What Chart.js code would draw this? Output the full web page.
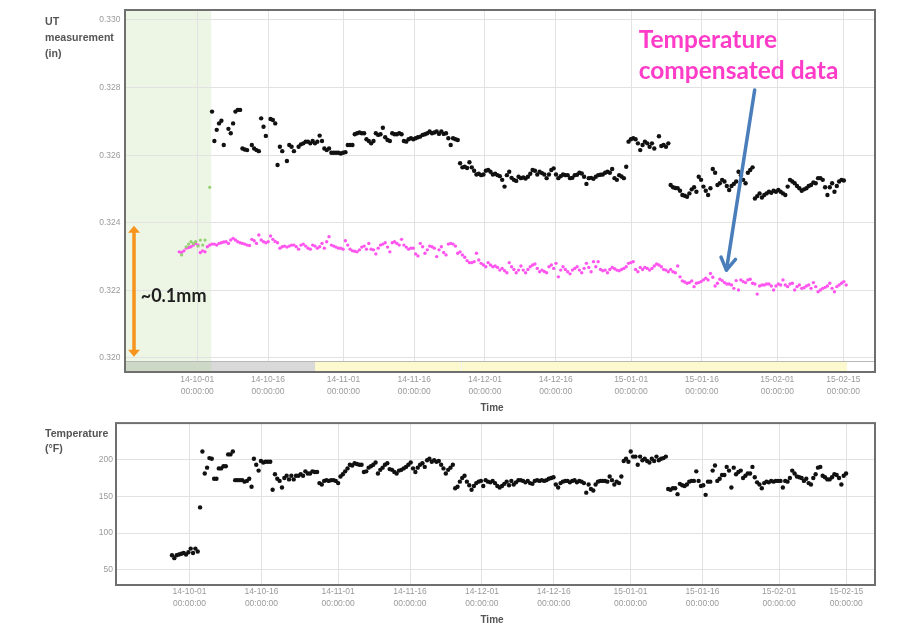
<!DOCTYPE html>
<html><head><meta charset="utf-8">
<script src="https://cdn.jsdelivr.net/npm/chart.js@4.4.1/dist/chart.umd.min.js"></script>
<style>
html,body{margin:0;padding:0;background:#fff;}
#wrap{position:relative;width:915px;height:637px;overflow:hidden;}
canvas{position:absolute;left:0;}
#c1{top:0;} #c2{top:415px;}
</style></head><body>
<div id="wrap"><canvas id="c1" width="915" height="415"></canvas><canvas id="c2" width="915" height="222"></canvas></div>
<script>
// ---------- DATA ----------
const tickDays  = [0, 15, 31, 46, 61, 76, 92, 107, 123, 137];          // days since 14-10-01
const tickDates = ['14-10-01','14-10-16','14-11-01','14-11-16','14-12-01','14-12-16','15-01-01','15-01-16','15-02-01','15-02-15'];
const tickTime  = '00:00:00';
const utTicks   = [0.320, 0.322, 0.324, 0.326, 0.328, 0.330];
const tempTicks = [50, 100, 150, 200];

// sampling schedule of the logged readings (days since 14-10-01)
const utStartDay = -5.31, utStepDays = 0.4962;
const tempStartDay = -3.66, tempStepDays = 0.4883;

// raw UT thickness (in), black
const utRaw = [
null,null,null,null,null,null,null,null,null,null,
null,null,null,null,null,null,null,0.32729,0.32642,0.32675,
0.32694,0.32702,0.3263,null,0.32678,0.32665,0.32694,0.32729,0.32734,0.32734,
0.3262,0.32617,0.32615,null,0.3263,0.3262,0.32615,0.32612,0.32709,0.32684,
0.32657,null,0.32707,0.32704,0.32694,0.32571,0.32625,0.32612,null,0.32583,
0.3263,0.32625,0.32612,null,0.32625,0.32632,0.32635,0.3264,0.3264,0.32635,
0.32642,0.32635,0.3264,0.32658,0.32642,0.3262,0.32615,0.3262,0.32607,0.32607,
0.32607,0.32607,0.32605,0.32607,0.32609,0.3263,0.3263,0.3263,0.32662,0.32665,
0.32667,0.32665,0.32665,0.32647,0.32642,0.32635,0.32642,0.32665,0.3266,0.32662,
0.32681,0.32653,0.32645,0.32642,0.32665,0.32662,0.32662,0.32665,0.32662,0.32642,
0.3264,0.32647,0.3265,0.32647,0.3265,0.32653,0.32655,0.3266,0.32662,0.32665,
0.3267,0.32665,0.32667,0.3267,0.32663,0.3267,0.32663,0.32665,0.3265,0.3263,
0.3265,0.32647,0.32645,0.32576,0.32564,0.32566,0.32562,0.32579,0.32564,0.32554,
0.32543,0.32545,0.32541,0.32543,0.32554,0.32556,0.32551,0.32543,0.32545,0.32541,
0.32538,0.32527,0.32507,0.32541,0.32551,0.32533,0.32527,0.32524,0.32536,0.32532,
0.32534,0.32531,0.32536,0.32545,0.32556,0.32554,0.32543,0.32551,0.32547,0.32543,
0.32532,0.32543,0.32556,0.32561,0.32543,0.32532,0.32538,0.32543,0.32541,0.32541,
0.32532,0.32533,0.32541,0.32542,0.32548,0.32546,0.32536,0.32515,0.32532,0.32533,
0.3253,0.32536,0.32541,0.32542,0.32543,0.32548,0.32551,0.32548,0.32559,0.32532,
0.32527,0.32541,0.32537,0.32532,0.32566,0.3264,0.32647,0.3265,0.32647,0.32635,
0.32615,0.3263,0.3264,0.32635,0.32625,0.32635,0.3262,null,0.32656,0.32627,
0.3263,0.32625,0.32635,0.32512,0.32505,0.32503,0.32502,0.32495,0.32482,0.3248,
0.32477,0.32487,0.32499,0.32505,0.32492,0.32536,0.32527,0.32507,0.32495,0.32482,
0.32502,0.32559,0.32548,0.32512,0.32517,0.32527,0.32522,0.32509,0.32497,0.32509,
0.32515,0.32522,0.32551,0.32541,0.32527,0.32517,0.32548,0.32556,0.32564,0.32472,
0.32479,0.32487,0.32475,0.32482,0.32487,0.32492,0.32489,0.32495,0.32492,0.32497,
0.32492,0.32487,0.32482,0.32507,0.32527,0.32522,0.32517,0.32509,0.32502,0.32495,
0.32499,0.32502,0.32509,0.32512,0.32519,0.32517,0.32532,0.32532,0.32527,0.32505,
0.32482,0.32505,0.32517,0.32492,0.32509,0.32522,0.32527,0.32525,null
];

// temperature compensated UT thickness (in), magenta
const utCompensated = [
null,null,null,0.32314,0.32312,0.32317,0.32325,0.32327,0.32329,0.32334,
0.32339,0.32334,0.32312,0.32317,0.32314,0.32329,0.32334,0.32337,0.32337,0.32334,
0.32339,0.32341,0.32343,0.32344,0.32339,0.32349,0.32354,0.32349,0.32344,0.32341,
0.32339,0.32337,0.32334,0.32333,0.32351,0.32347,0.32339,0.32364,0.32349,0.32344,
0.32341,0.32344,0.32361,0.32351,0.32345,0.32341,0.32325,0.32329,0.32331,0.32328,
0.32331,0.32334,0.32334,0.32329,0.32322,0.32334,0.32337,0.32331,0.32325,0.32322,
0.32334,0.32331,0.32325,0.32329,0.32339,0.32325,0.32344,0.32359,0.32334,0.32331,
0.32328,0.32325,0.32325,0.32322,0.32347,0.32334,0.32322,0.32317,0.32316,0.32314,
0.3232,0.32328,0.32331,0.32322,0.32339,0.32322,0.3232,0.32308,0.32325,0.32334,
0.32337,0.32341,0.32328,0.32314,0.32341,0.32344,0.32339,0.32334,0.32351,0.32334,
0.32328,0.32322,0.32325,0.32325,0.32308,0.32302,0.32339,0.32329,0.3231,0.3232,
0.32331,0.32329,0.32325,0.323,0.3232,0.32329,0.32312,0.32305,0.32337,0.32339,
0.32337,0.32331,0.3231,0.32314,0.32305,0.32298,0.32288,0.32282,0.32282,0.32285,
0.3231,0.3229,0.3228,0.32275,0.3227,0.32282,0.32275,0.3227,0.32272,0.32268,
0.3226,0.32265,0.32258,0.32252,0.32282,0.3227,0.32262,0.32252,0.3226,0.32272,
0.3226,0.32252,0.32262,0.3227,0.32275,0.32278,0.32265,0.32255,0.3226,0.32256,
0.32252,0.3227,0.32275,0.32265,0.3228,0.3224,0.3226,0.3227,0.32262,0.32255,
0.32249,0.3226,0.32265,0.3227,0.3226,0.32252,0.32265,0.3228,0.32268,0.32255,
0.32285,0.3227,0.32285,0.32262,0.32258,0.3226,0.32252,0.32262,0.32268,0.32264,
0.3226,0.32258,0.32262,0.32265,0.3227,0.3228,0.32282,0.32285,0.32262,0.32255,
0.32268,0.32262,0.32268,0.32265,0.3226,0.32265,0.32272,0.32278,0.32275,0.3227,
0.32262,0.3226,0.32255,0.32262,0.32255,0.32252,0.32272,0.3224,0.32228,0.32225,
0.32221,0.32223,0.32228,0.32211,0.32221,0.32223,0.32226,0.32231,0.32236,0.32231,
0.3225,0.32239,0.32213,0.32221,0.32233,0.32229,0.32223,0.32219,0.32219,0.32216,
0.32206,0.32229,0.32201,0.32231,0.32226,0.32223,0.32231,0.32233,0.32221,0.32219,
0.32189,0.32213,0.32216,0.32216,0.32219,0.32219,0.32213,0.32201,0.32213,0.32219,
0.32216,0.32231,0.32216,0.32211,0.32219,0.32221,0.32201,0.32211,0.32216,0.32206,
0.32208,0.32213,0.32216,0.32206,0.32223,0.32211,0.32196,0.32201,0.32206,0.32209,
0.32213,0.32221,0.32206,0.32196,0.32211,0.32216,0.32221,0.32226,0.32216
];

// readings taken at ambient temperature (green band), green
const utAmbient = [
null,null,null,null,0.32305,null,0.32329,0.32337,0.32344,0.32339,
0.32344,0.32331,0.32349,0.32334,0.32349,null,0.32505
];

// process temperature (°F)
const temperatureF = [
70,66,70,71,72,73,71,74,79,73,
79,75,135,211,181,189,202,201,174,174,
188,188,191,191,207,207,211,172,172,172,
172,170,171,174,163,201,193,185,198,196,
197,197,197,159,180,174,171,162,175,178,
173,178,173,178,178,180,178,184,181,181,
184,183,183,168,166,171,172,171,172,172,
171,168,177,180,184,188,193,192,195,194,
193,193,183,184,189,191,193,196,181,186,
189,193,195,187,186,183,181,185,186,188,
190,193,196,188,183,189,193,195,190,199,
201,197,199,197,198,193,188,181,186,189,
193,161,163,170,175,178,170,165,159,164,
168,170,171,164,172,170,169,171,168,164,
162,164,167,170,165,171,166,169,172,172,
171,169,171,168,167,171,172,171,172,171,
172,174,175,176,166,162,168,170,171,171,
169,171,172,169,171,170,168,155,166,160,
158,166,170,171,171,171,170,177,172,166,
170,168,177,198,201,197,211,204,204,193,
204,199,201,198,196,201,198,204,199,201,
202,204,160,159,161,161,153,167,165,164,
166,170,171,171,184,171,164,165,152,170,
170,185,192,171,174,179,179,190,185,162,
189,180,183,185,175,178,181,181,190,176,
169,166,161,168,170,169,171,170,171,171,
171,162,171,170,175,185,181,177,176,175,
171,174,168,166,175,180,189,190,178,176,
173,173,176,180,179,175,166,178,181
];

// ambient (green) period and the range strip under the top plot (days)
const ambientEndDay = 2.95;
const stripGrayEnd = 24.96, stripYellowEnd = 137.8, stripDivider = 55.9;

// ---------- HELPERS ----------
const FONT = 'Arial, "Liberation Sans", Helvetica, sans-serif';
const NOTE_FONT = 'Lato, "Open Sans", Arial, sans-serif';
Chart.defaults.font.family = FONT;
Chart.defaults.animation = false;

function toPoints(values, start, step) {
  const pts = [];
  values.forEach((v, i) => { if (v !== null) pts.push({ x: start + i * step, y: v }); });
  return pts;
}

function xAxis(min, max, pad, h) {
  return {
    type: 'linear', min, max,
    grid: { color: '#e2e2e2', lineWidth: 1, drawTicks: false },
    border: { display: false },
    afterBuildTicks: s => { s.ticks = tickDays.map(v => ({ value: v })); },
    afterFit: s => { s.height = h; },
    ticks: {
      autoSkip: false, maxRotation: 0, minRotation: 0, padding: pad,
      color: '#9a9a9a', font: { size: 8.5, lineHeight: 1.4 },
      callback: (v, i) => [tickDates[i], tickTime]
    }
  };
}
function yAxis(min, max, ticksArr, w, pad, fmt) {
  return {
    type: 'linear', min, max,
    grid: { color: '#e2e2e2', lineWidth: 1, drawTicks: false },
    border: { display: false },
    afterBuildTicks: s => { s.ticks = ticksArr.map(v => ({ value: v })); },
    afterFit: s => { s.width = w; },
    ticks: { padding: pad, color: '#9a9a9a', font: { size: 8.5 }, callback: fmt }
  };
}
function frame(ctx, a) {
  ctx.save();
  ctx.strokeStyle = '#6f6f6f'; ctx.lineWidth = 2;
  ctx.strokeRect(a.left - 1, a.top - 1, a.right - a.left + 2, a.bottom - a.top + 2);
  ctx.restore();
}
function label(ctx, lines, x, ys, font, color, align) {
  ctx.save(); ctx.font = font; ctx.fillStyle = color; ctx.textAlign = align || 'left'; ctx.textBaseline = 'middle';
  lines.forEach((t, i) => ctx.fillText(t, x, ys[i]));
  ctx.restore();
}

// ---------- TOP CHART ----------
const topDeco = {
  id: 'topDeco',
  beforeDraw(chart) {
    const { ctx, chartArea: a, scales: { x } } = chart;
    ctx.save();
    ctx.fillStyle = '#edf6e5';
    ctx.fillRect(a.left, a.top, x.getPixelForValue(ambientEndDay) - a.left, a.bottom - a.top);
    ctx.restore();
  },
  beforeDatasetsDraw(chart) {
    const { ctx, chartArea: a, scales: { x } } = chart;
    const y0 = a.bottom - 9;
    ctx.save();
    ctx.fillStyle = '#d9d9d9';
    ctx.fillRect(a.left, y0, x.getPixelForValue(stripGrayEnd) - a.left, 9);
    ctx.fillStyle = 'rgba(190,215,175,0.45)';
    ctx.fillRect(a.left, y0, x.getPixelForValue(ambientEndDay) - a.left, 9);
    ctx.fillStyle = '#fbf9cd';
    ctx.fillRect(x.getPixelForValue(stripGrayEnd), y0, x.getPixelForValue(stripYellowEnd) - x.getPixelForValue(stripGrayEnd), 9);
    ctx.fillStyle = '#ffffff';
    ctx.fillRect(x.getPixelForValue(stripYellowEnd), y0, a.right - x.getPixelForValue(stripYellowEnd), 9);
    ctx.fillStyle = '#f2f2f2';
    ctx.fillRect(Math.round(x.getPixelForValue(stripDivider)), y0, 1, 9);
    ctx.fillStyle = '#b8b8b8';
    ctx.fillRect(a.left, y0 - 1, a.right - a.left, 1);
    ctx.restore();
  },
  afterDraw(chart) {
    const { ctx, chartArea: a, scales: { x, y } } = chart;
    frame(ctx, a);
    label(ctx, ['UT', 'measurement', '(in)'], 45, [22.5, 38.5, 54], 'bold 10.6px ' + FONT, '#555');
    label(ctx, ['Time'], 492, [408], 'bold 10px ' + FONT, '#555', 'center');

    // orange double arrow (~0.1 mm span)
    const ax = x.getPixelForValue(-13.42), ay1 = y.getPixelForValue(0.32391), ay2 = y.getPixelForValue(0.32004);
    ctx.save();
    ctx.strokeStyle = '#f7941d'; ctx.fillStyle = '#f7941d'; ctx.lineWidth = 3.5;
    ctx.beginPath(); ctx.moveTo(ax, ay1 + 5); ctx.lineTo(ax, ay2 - 5); ctx.stroke();
    ctx.beginPath(); ctx.moveTo(ax, ay1); ctx.lineTo(ax - 6, ay1 + 7); ctx.lineTo(ax + 6, ay1 + 7); ctx.closePath(); ctx.fill();
    ctx.beginPath(); ctx.moveTo(ax, ay2); ctx.lineTo(ax - 6, ay2 - 7); ctx.lineTo(ax + 6, ay2 - 7); ctx.closePath(); ctx.fill();
    ctx.restore();
    label(ctx, ['~0.1mm'], x.getPixelForValue(-12.0), [y.getPixelForValue(0.32183)], 'bold 18px ' + NOTE_FONT, '#1e1e1e');

    // annotation text
    label(ctx, ['Temperature', 'compensated data'], x.getPixelForValue(93.6),
      [y.getPixelForValue(0.32940), y.getPixelForValue(0.32848)], 'bold 24.5px ' + NOTE_FONT, '#ff3cc8');

    // blue arrow
    const bx1 = x.getPixelForValue(118.2), by1 = y.getPixelForValue(0.32793);
    const bx2 = x.getPixelForValue(112.2), by2 = y.getPixelForValue(0.3226);
    const ang = Math.atan2(by2 - by1, bx2 - bx1);
    ctx.save();
    ctx.strokeStyle = '#4a7ebb'; ctx.lineWidth = 3.5; ctx.lineCap = 'round'; ctx.lineJoin = 'round';
    ctx.beginPath(); ctx.moveTo(bx1, by1); ctx.lineTo(bx2, by2); ctx.stroke();
    ctx.beginPath();
    ctx.moveTo(bx2 - 14 * Math.cos(ang - 0.55), by2 - 14 * Math.sin(ang - 0.55));
    ctx.lineTo(bx2, by2);
    ctx.lineTo(bx2 - 14 * Math.cos(ang + 0.55), by2 - 14 * Math.sin(ang + 0.55));
    ctx.stroke();
    ctx.restore();
  }
};

new Chart(document.getElementById('c1'), {
  type: 'scatter',
  data: {
    datasets: [
      { label: 'UT raw', data: toPoints(utRaw, utStartDay, utStepDays), backgroundColor: '#111', borderWidth: 0, pointRadius: 2.2 },
      { label: 'Ambient', data: toPoints(utAmbient, utStartDay, utStepDays), backgroundColor: '#95d173', borderWidth: 0, pointRadius: 1.6 },
      { label: 'Compensated', data: toPoints(utCompensated, utStartDay, utStepDays), backgroundColor: '#ff55ee', borderWidth: 0, pointRadius: 1.7 }
    ]
  },
  options: {
    responsive: false, animation: false,
    layout: { padding: { left: 0, right: 41, top: 11, bottom: 0 } },
    plugins: { legend: { display: false }, tooltip: { enabled: false } },
    scales: {
      x: xAxis(-15.12, 143.5, 3, 44),
      y: yAxis(0.319615, 0.330266, utTicks, 126, 5.5, v => v.toFixed(3))
    }
  },
  plugins: [topDeco]
});

// ---------- BOTTOM CHART ----------
const botDeco = {
  id: 'botDeco',
  afterDraw(chart) {
    const { ctx, chartArea: a } = chart;
    frame(ctx, a);
    label(ctx, ['Temperature', '(°F)'], 45, [19, 34.3], 'bold 10.6px ' + FONT, '#555');
    label(ctx, ['Time'], 492, [205], 'bold 10px ' + FONT, '#555', 'center');
  }
};

new Chart(document.getElementById('c2'), {
  type: 'scatter',
  data: {
    datasets: [
      { label: 'Temperature', data: toPoints(temperatureF, tempStartDay, tempStepDays), backgroundColor: '#111', borderWidth: 0, pointRadius: 2.2 }
    ]
  },
  options: {
    responsive: false, animation: false,
    layout: { padding: { left: 0, right: 41, top: 7, bottom: 0 } },
    plugins: { legend: { display: false }, tooltip: { enabled: false } },
    scales: {
      x: xAxis(-15.13, 142.8, 2, 53),
      y: yAxis(30.85, 248.2, tempTicks, 117, 4, v => String(v))
    }
  },
  plugins: [botDeco]
});
</script>
</body></html>
